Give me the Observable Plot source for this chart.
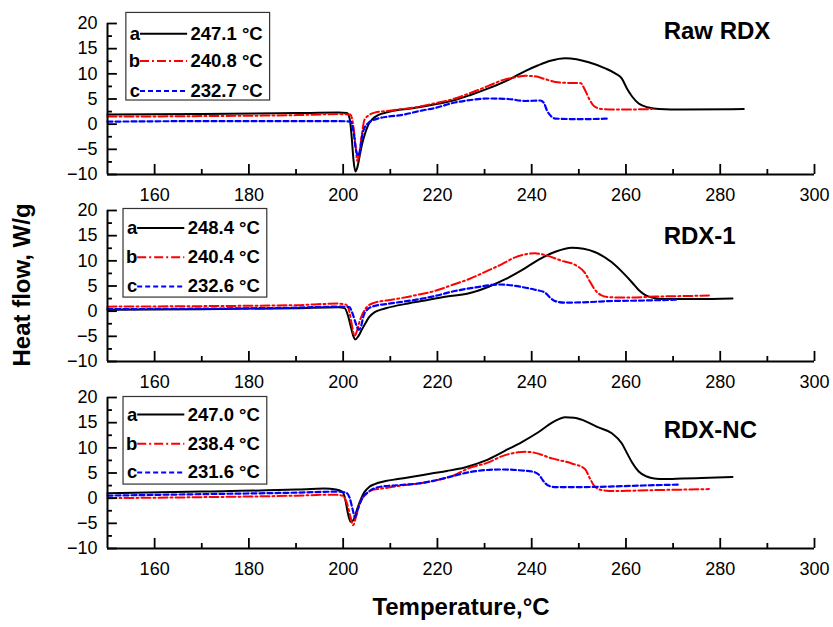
<!DOCTYPE html>
<html><head><meta charset="utf-8">
<script src="https://cdn.jsdelivr.net/npm/d3@7"></script>
<script src="https://cdn.jsdelivr.net/npm/@observablehq/plot@0.6"></script>
<style>
body{margin:0;background:#fff;}
#chart{width:833px;height:627px;}
</style></head><body><div id="chart"></div>
<script>
// Panels and series
const panelOrder = ["Raw RDX", "RDX-1", "RDX-NC"];
const seriesKeys = ["a", "b", "c"];

// Peak temperatures shown in the legends
const rawPeaks  = ["247.1 °C", "240.8 °C", "232.7 °C"];
const rdx1Peaks = ["248.4 °C", "240.4 °C", "232.6 °C"];
const rdxNcPeaks = ["247.0 °C", "238.4 °C", "231.6 °C"];

// Tick values
const xTicks = [160, 180, 200, 220, 240, 260, 280, 300];
const xMinor = [170, 190, 210, 230, 250, 270, 290];
const yTicks = [-10, -5, 0, 5, 10, 15, 20];
const yMinor = [-7.5, -2.5, 2.5, 7.5, 12.5, 17.5];

// Raw RDX  [temperature °C, heat flow W/g]
const rawA = [[150,1.9],[170,2.0],[190,2.2],[199,2.3],[200.8,2.2],[201.4,1.0],[201.8,-2.5],[202.2,-7.2],[202.6,-9.4],[203.0,-8.6],[203.5,-6.3],[204.0,-4.0],[204.6,-2.0],[205.3,-0.2],[206.2,1.0],[207.4,1.8],[209.5,2.4],[211.6,2.8],[215,3.2],[218.7,3.8],[223.7,4.8],[227,5.8],[230.8,7.1],[235.7,9.1],[238.5,10.5],[241.4,11.7],[244,12.6],[247.1,13.1],[249.5,12.9],[252.1,12.3],[255.6,11.1],[257.7,10.1],[259.1,9.1],[260.2,7.1],[261.3,5.5],[262.7,4.1],[264.8,3.3],[267,3.0],[272,2.9],[285,3.0]];
const rawB = [[150,1.5],[170,1.6],[190,1.8],[199,2.0],[201.5,1.9],[202.1,0],[202.6,-4],[203.0,-7.3],[203.4,-6],[203.9,-2.5],[204.5,0.8],[205.5,1.8],[206.7,2.3],[209,2.6],[211.6,2.9],[215,3.3],[218.7,4.0],[223.7,5.1],[227,6.2],[230.8,7.6],[234,8.8],[236.5,9.3],[238.7,9.6],[240.7,9.5],[243,8.9],[245,8.4],[248,8.2],[250.3,8.2],[251.3,6.8],[252.2,5.0],[253.2,3.6],[254.9,3.0],[258,2.9],[265.5,3.0]];
const rawC = [[150,0.5],[170,0.6],[190,0.6],[199,0.6],[201.6,0.5],[202.2,-1.5],[202.7,-5],[203.2,-6.3],[203.6,-5],[204.2,-1.5],[205.3,0.2],[207,1.0],[209.5,1.5],[212.3,1.8],[216.6,2.7],[219.4,3.2],[223.7,4.3],[227,4.8],[230.8,5.1],[235,5.0],[238.6,4.6],[241.8,4.7],[242.6,4.2],[243.2,2.8],[244.2,1.5],[245,1.1],[250,1.0],[256.3,1.1]];

// RDX-1
const r1A = [[150,0.3],[170,0.4],[190,0.6],[199,0.8],[200.3,0.6],[201,-0.8],[201.6,-3],[202.1,-4.8],[202.6,-5.6],[203.2,-5.0],[204,-3.6],[204.6,-2.6],[205.5,-1.2],[206.7,-0.2],[208,0.3],[209.5,0.7],[213,1.4],[216.6,2.0],[222,2.9],[226.5,3.5],[231,4.9],[234.3,6.3],[238,8.2],[241.4,10.2],[245,11.8],[248.5,12.6],[251,12.4],[253.5,11.7],[257,9.7],[259.5,7.5],[261.3,5.7],[262.7,4.2],[264.1,3.2],[266,2.6],[267.7,2.4],[275,2.4],[282.6,2.5]];
const r1B = [[150,0.9],[170,1.0],[190,1.2],[199,1.5],[200.6,1.3],[201.3,0],[201.8,-2.5],[202.4,-4.9],[202.9,-4.0],[203.5,-2],[204.6,0.3],[205.5,1.2],[206.7,1.7],[209,2.1],[212.3,2.6],[215,3.1],[219.4,4.0],[223.7,5.4],[226.5,6.3],[230.8,8.1],[233.6,9.3],[236.5,10.7],[238.7,11.3],[240.7,11.5],[243,11.1],[246.4,10.0],[249.2,9.2],[251.3,7.6],[252.4,5.8],[253.3,4.4],[254.7,3.2],[256.3,2.8],[260,2.7],[266.2,2.9],[272,3.0],[277.6,3.1]];
const r1C = [[150,0.4],[170,0.5],[190,0.7],[199,0.9],[201.3,0.8],[202.0,-0.5],[202.7,-2.5],[203.3,-3.7],[203.8,-3.0],[204.3,-1.0],[205.2,0.4],[206.5,1.0],[209,1.4],[212,1.8],[215,2.2],[219.4,3.0],[223.7,4.0],[228,4.7],[232.9,5.3],[235,5.2],[237.9,4.8],[240.5,4.3],[242.8,3.7],[244,2.6],[245,2.0],[247.1,1.7],[252,1.8],[256.3,2.0],[263,2.1],[271.2,2.3]];

// RDX-NC
const ncA = [[150,1.0],[170,1.3],[190,1.7],[196,1.9],[198.5,1.7],[199.9,1.2],[200.5,-0.5],[201.0,-3],[201.6,-4.7],[202.2,-4.3],[203.1,-1.8],[204.5,1.2],[205.5,2.2],[206.7,2.8],[209,3.4],[211.6,3.8],[215,4.3],[218.7,4.9],[222,5.4],[225.8,6.1],[230,7.4],[234.3,9.4],[238,11.2],[241.4,13.1],[244.5,15.1],[247.1,16.1],[249,16.0],[250.6,15.6],[254,14.1],[257,12.9],[259.1,10.9],[260.3,8.8],[261.3,7.1],[262.7,5.3],[264.4,4.3],[266,3.9],[268,3.8],[272,3.9],[276,4.0],[282.6,4.2]];
const ncB = [[150,0.0],[170,0.2],[190,0.5],[198,0.7],[199.8,0.5],[200.8,-1],[201.5,-3.5],[202.1,-5.4],[202.7,-3.8],[203.5,-1.1],[204.9,0.9],[206.5,1.7],[208.1,1.9],[212.3,2.5],[216.6,3.0],[219.4,3.5],[223.7,4.6],[226.5,5.9],[230.8,7.1],[233.6,8.3],[237.1,9.1],[239,9.2],[240.7,9.0],[244.3,7.9],[248.5,6.9],[251.3,5.8],[252.3,4.0],[253.3,2.4],[254.9,1.6],[257.7,1.4],[262,1.5],[266.2,1.6],[272,1.7],[277.6,1.8]];
const ncC = [[150,0.5],[170,0.8],[190,1.1],[199,1.3],[200.6,1.1],[201.4,0],[202.0,-2.2],[202.5,-3.8],[203.0,-2.5],[203.8,-0.5],[205.3,1.2],[206.7,2.0],[208.1,2.3],[212,2.6],[216.6,3.0],[219.4,3.5],[223.7,4.5],[227,5.2],[230.5,5.6],[233.6,5.7],[237.9,5.5],[240.5,5.2],[241.6,4.6],[242.4,3.5],[243.5,2.5],[245,2.2],[250,2.2],[256.3,2.3],[263,2.5],[271.2,2.7]];

const curveSets = [
  ["Raw RDX", "a", rawA], ["Raw RDX", "b", rawB], ["Raw RDX", "c", rawC],
  ["RDX-1", "a", r1A], ["RDX-1", "b", r1B], ["RDX-1", "c", r1C],
  ["RDX-NC", "a", ncA], ["RDX-NC", "b", ncB], ["RDX-NC", "c", ncC]
];
const rows = curveSets.flatMap(([panel, s, arr]) => arr.map(([T, v]) => ({panel, s, T, v})));

// ---- styling / layout (not data) ----
const seriesStyle = {
  a: {stroke: "#000000", strokeWidth: 2, strokeDasharray: null},
  b: {stroke: "#ff0000", strokeWidth: 2, strokeDasharray: "9,3,2,3"},
  c: {stroke: "#0000ff", strokeWidth: 2.2, strokeDasharray: "5,3"}
};
const peaksByPanel = [rawPeaks, rdx1Peaks, rdxNcPeaks];
const legendLeft = [154.0, 153.4, 153.4];
const legendBoxY = [[22.1, 4.7], [20.3, 2.7], [20.1, 2.7]];
const legendRowY = [[17.96, 12.54, 6.59], [16.5, 10.7, 4.9], [16.6, 10.8, 5.1]];
const titleY = [18.4, 14.9, 13.4];

const legendBoxes = panelOrder.map((panel, pi) => ({
  panel, x1: legendLeft[pi], x2: legendLeft[pi] + 30.5, y1: legendBoxY[pi][0], y2: legendBoxY[pi][1]
}));
const legendRows = panelOrder.flatMap((panel, pi) => seriesKeys.map((s, i) => ({
  panel, s, label: peaksByPanel[pi][i], y: legendRowY[pi][i],
  xl: legendLeft[pi] + 2.9, x1: legendLeft[pi] + 3.0, x2: legendLeft[pi] + 13.0, xt: legendLeft[pi] + 13.6
})));
const titles = panelOrder.map((panel, pi) => ({panel, y: titleY[pi]}));

const font = "'Liberation Sans', Arial, Helvetica, sans-serif";
// inward tick lengths expressed in axis units (≈10 px major, ≈5 px minor)
const xTickLen = 2.0, xMinorLen = 1.0;   // in heat-flow units
const yTickLen = 2.1, yMinorLen = 1.05;  // in temperature units

const marks = [
  Plot.rect(legendBoxes, {fy: "panel", x1: "x1", x2: "x2", y1: "y1", y2: "y2", fill: "white", stroke: "#333", strokeWidth: 1.2}),
  ...seriesKeys.map(s => Plot.line(rows.filter(d => d.s === s), {
    fy: "panel", x: "T", y: "v", z: "panel", curve: "monotone-x",
    stroke: seriesStyle[s].stroke, strokeWidth: seriesStyle[s].strokeWidth,
    strokeDasharray: seriesStyle[s].strokeDasharray
  })),
  ...seriesKeys.map(s => Plot.ruleY(legendRows.filter(d => d.s === s), {
    fy: "panel", y: "y", x1: "x1", x2: "x2",
    stroke: seriesStyle[s].stroke, strokeWidth: seriesStyle[s].strokeWidth,
    strokeDasharray: seriesStyle[s].strokeDasharray
  })),
  Plot.text(legendRows, {fy: "panel", x: "xl", y: "y", text: "s", textAnchor: "end", fontWeight: "bold", fontSize: 18.5, fill: "#000"}),
  Plot.text(legendRows, {fy: "panel", x: "xt", y: "y", text: "label", textAnchor: "start", fontWeight: "bold", fontSize: 18.5, fill: "#000"}),
  Plot.text(titles, {fy: "panel", x: 268, y: "y", text: "panel", textAnchor: "start", fontWeight: "bold", fontSize: 24, fill: "#000"}),
  // inward tick marks
  Plot.ruleX(xTicks, {x: d => d, y1: -10, y2: -10 + xTickLen, stroke: "#000", strokeWidth: 1.8}),
  Plot.ruleX(xMinor, {x: d => d, y1: -10, y2: -10 + xMinorLen, stroke: "#000", strokeWidth: 1.8}),
  Plot.ruleY(yTicks, {y: d => d, x1: 150, x2: 150 + yTickLen, stroke: "#000", strokeWidth: 1.8}),
  Plot.ruleY(yMinor, {y: d => d, x1: 150, x2: 150 + yMinorLen, stroke: "#000", strokeWidth: 1.8}),
  // axis lines
  Plot.ruleX([150], {y1: -10, y2: 20, stroke: "#000", strokeWidth: 2}),
  Plot.ruleY([-10], {x1: 150, x2: 300, stroke: "#000", strokeWidth: 2}),
  // tick labels
  Plot.axisY({ticks: yTicks, tickSize: 0, tickPadding: 10, fontSize: 18, label: null}),
  Plot.axisX({ticks: xTicks, tickSize: 0, tickPadding: 14, fontSize: 18, label: null, facetAnchor: null})
];

const chart = Plot.plot({
  width: 833, height: 627,
  marginLeft: 107, marginRight: 19, marginTop: 22, marginBottom: 79,
  x: {domain: [150, 300]},
  y: {domain: [-10, 20]},
  fy: {domain: panelOrder, paddingInner: 0.195, paddingOuter: 0, axis: null, label: null},
  style: {fontFamily: font, background: "white", color: "#000", overflow: "visible"},
  marks
});

const svg = d3.select(chart);
svg.append("text")
  .attr("transform", "translate(24,285) rotate(-90)")
  .attr("text-anchor", "middle").attr("dominant-baseline", "middle")
  .attr("font-family", font).attr("font-weight", "bold").attr("font-size", 24).attr("fill", "#000")
  .text("Heat flow, W/g");
svg.append("text")
  .attr("x", 461).attr("y", 615)
  .attr("text-anchor", "middle")
  .attr("font-family", font).attr("font-weight", "bold").attr("font-size", 24).attr("fill", "#000")
  .text("Temperature,°C");

document.getElementById("chart").appendChild(chart);
</script>
</body></html>
